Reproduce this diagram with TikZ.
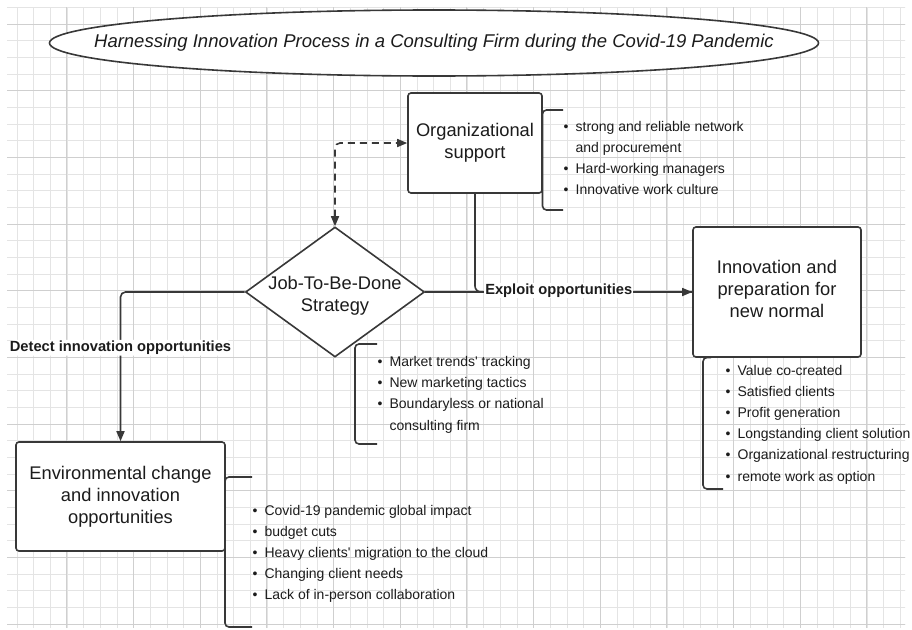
\documentclass[tikz,border=0pt]{standalone}
\usepackage{fontspec}
\setmainfont{Liberation Sans}
\usetikzlibrary{shapes.geometric,arrows.meta,calc}
\definecolor{ln}{HTML}{383838}
\definecolor{txt}{HTML}{1C1C1C}
\definecolor{gminor}{HTML}{E4E4E4}
\definecolor{gmajor}{HTML}{CFCFCF}
\begin{document}
\begin{tikzpicture}[x=1pt,y=-1pt,
  shapeline/.style={draw=ln, line width=1.6pt, fill=white},
  box/.style={shapeline, rounded corners=3pt, inner sep=0, align=center, text=txt,
    font=\fontsize{18.3}{22}\selectfont},
  boxtext/.style={align=center, text=txt, inner sep=0, font=\fontsize{18.3}{22}\selectfont},
  conn/.style={draw=ln, line width=1.6pt, -{Triangle[length=10pt,width=8pt]}},
  plain/.style={draw=ln, line width=1.6pt},
  dashconn/.style={draw=ln, line width=1.6pt, dash pattern=on 7pt off 5pt,
    {Triangle[length=10pt,width=8pt]}-{Triangle[length=10pt,width=8pt]}},
  lbl/.style={fill=white, inner sep=1pt, text=txt, font=\bfseries\fontsize{14.7}{17}\selectfont},
  bracket/.style={draw=ln, line width=1.6pt, rounded corners=4pt},
  blist/.style={anchor=north west, inner sep=0, text=txt, font=\fontsize{14}{21.2}\selectfont}
]
\useasboundingbox (0,0) rectangle (912,629);
\fill[white] (0,0) rectangle (912,629);
% grid
\begin{scope}
  \clip (7,7) rectangle (905,627);
  \foreach \i in {0,...,54} { \draw[gminor, line width=0.9pt] ({0.3+16.667*\i},0) -- ++(0,629); }
  \foreach \j in {0,...,38} { \draw[gminor, line width=0.9pt] (0,{7.3+16.667*\j}) -- ++(912,0); }
  \foreach \i in {0,...,13} { \draw[gmajor, line width=1pt] ({0.3+66.667*\i},0) -- ++(0,629); }
  \foreach \j in {0,...,9} { \draw[gmajor, line width=1pt] (0,{24+66.667*\j}) -- ++(912,0); }
\end{scope}

% title
\node[ellipse, shapeline, minimum width=769pt, minimum height=66pt, inner sep=0] (title) at (434,43) {};
\node[text=txt, inner sep=0, font=\fontsize{18.5}{22}\selectfont\itshape] (titletext) at (title.center)
  {Harnessing Innovation Process in a Consulting Firm during the Covid-19 Pandemic};

% main nodes
\node[box, minimum width=134pt, minimum height=100pt] (org) at (475,143) {Organizational\\support};
\node[diamond, shapeline, minimum width=179pt, minimum height=130pt, inner sep=0] (jtbd) at (335,292) {};
\node[boxtext] (jtbdtext) at ($(jtbd.center)+(0,4)$) {Job-To-Be-Done\\Strategy};
\node[box, minimum width=168pt, minimum height=130pt] (innov) at (777,292) {};
\node[boxtext] (innovtext) at ($(innov.center)+(0,-3)$) {Innovation and\\preparation for\\new normal};
\node[box, minimum width=209pt, minimum height=109pt] (env) at (120.5,496.5) {Environmental change\\and innovation\\opportunities};

% connectors
\draw[dashconn, rounded corners=5pt] (jtbd.north) |- (org.west);
\draw[conn, rounded corners=5pt] (jtbd.west) -| node[lbl, pos=0.687] (detect) {Detect innovation opportunities} (env.north);
\draw[plain, rounded corners=6pt] (org.south) |- (innov.west);
\draw[conn] (jtbd.east) -- node[lbl, pos=0.5, yshift=1.5pt] (exploit) {Exploit opportunities} (innov.west);

% brackets
\draw[bracket] (563,110) -- (542.5,110) -- (542.5,210) -- (563,210);
\draw[bracket] (377,344) -- (355,344) -- (355,444) -- (377,444);
\draw[bracket] (711,357.5) -- (703,357.5) -- (703,489) -- (723,489);
\draw[bracket] (252,477) -- (225,477) -- (225,627) -- (252,627);

% bullet lists
\node[blist] (orglist) at (563.5,116) {\begin{tabular}{@{}l@{\hspace{7pt}}l@{}}
\textbullet & strong and reliable network\\
 & and procurement\\
\textbullet & Hard-working managers\\
\textbullet & Innovative work culture
\end{tabular}};
\node[blist] (jtbdlist) at (377.5,351.5) {\begin{tabular}{@{}l@{\hspace{7pt}}l@{}}
\textbullet & Market trends\textquotesingle{} tracking\\
\textbullet & New marketing tactics\\
\textbullet & Boundaryless or national\\
 & consulting firm
\end{tabular}};
\node[blist] (innovlist) at (725.5,360) {\begin{tabular}{@{}l@{\hspace{7pt}}l@{}}
\textbullet & Value co-created\\
\textbullet & Satisfied clients\\
\textbullet & Profit generation\\
\textbullet & Longstanding client solution\\
\textbullet & Organizational restructuring\\
\textbullet & remote work as option
\end{tabular}};
\node[blist] (envlist) at (252.5,500) {\begin{tabular}{@{}l@{\hspace{7pt}}l@{}}
\textbullet & Covid-19 pandemic global impact\\
\textbullet & budget cuts\\
\textbullet & Heavy clients\textquotesingle{} migration to the cloud\\
\textbullet & Changing client needs\\
\textbullet & Lack of in-person collaboration
\end{tabular}};
\end{tikzpicture}
\end{document}
